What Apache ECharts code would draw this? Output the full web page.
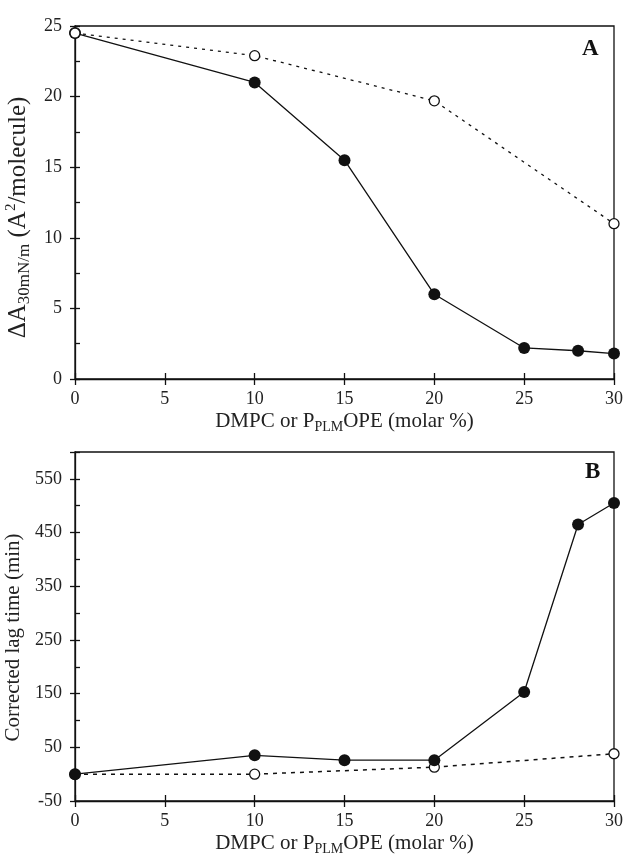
<!DOCTYPE html>
<html>
<head>
<meta charset="utf-8">
<script src="https://cdn.jsdelivr.net/npm/echarts@6/dist/echarts.min.js"></script>
<style>html,body{margin:0;padding:0;background:#fff}#c{width:628px;height:859px}</style>
</head>
<body>
<div id="c"></div>
<script>
// Panel A: ΔA30mN/m vs molar %
var aSolidX = [0, 10, 15, 20, 25, 28, 30];
var aSolidY = [24.5, 21.0, 15.5, 6.0, 2.2, 2.0, 1.8];
var aOpenX = [0, 10, 20, 30];
var aOpenY = [24.5, 22.9, 19.7, 11.0];
// Panel B: corrected lag time
var bSolidX = [0, 10, 15, 20, 25, 28, 30];
var bSolidY = [0, 35, 26, 26, 153, 465, 505];
var bOpenX = [0, 10, 20, 30];
var bOpenY = [0, 0, 13, 38];
var xTicks = [0, 5, 10, 15, 20, 25, 30];
var aYTicks = [0, 5, 10, 15, 20, 25];
var bYTicks = [-50, 50, 150, 250, 350, 450, 550];

function pairs(xs, ys) { return xs.map(function (x, i) { return [x, ys[i]]; }); }

var FF = 'Liberation Serif';
var rich = {
  b: { fontFamily: FF, fontSize: 21, lineHeight: 26, color: '#222' },
  s: { fontFamily: FF, fontSize: 14, lineHeight: 14, verticalAlign: 'bottom', color: '#222' }
};
var richY = {
  b: { fontFamily: FF, fontSize: 25, lineHeight: 30, color: '#222' },
  s: { fontFamily: FF, fontSize: 17, lineHeight: 16, verticalAlign: 'bottom', color: '#222' },
  p: { fontFamily: FF, fontSize: 15, lineHeight: 15, verticalAlign: 'top', color: '#222' }
};
var lineCol = '#111';
var labelStyle = { fontFamily: FF, fontSize: 18, color: '#222' };

function xAxes(grid) {
  return [
    { type: 'value', gridIndex: grid, position: 'bottom', min: 0, max: 30, interval: 5,
      axisLine: { onZero: false, lineStyle: { color: lineCol, width: 1.3 } },
      axisTick: { inside: true, length: 6, lineStyle: { color: lineCol, width: 1.3 } },
      axisLabel: Object.assign({ margin: 11, formatter: function (v) { return xTicks.indexOf(v) >= 0 ? String(v) : ''; } }, labelStyle),
      splitLine: { show: false },
      name: '{b|DMPC or P}{s|PLM}{b|OPE (molar %)}', nameLocation: 'middle', nameGap: 29,
      nameTextStyle: { rich: rich } },
    { type: 'value', gridIndex: grid, position: 'bottom', min: 0, max: 30, interval: 5,
      axisLine: { show: false, onZero: false },
      axisTick: { inside: false, length: 6, lineStyle: { color: lineCol, width: 1.3 } },
      axisLabel: { show: false }, splitLine: { show: false } }
  ];
}

function yInner(grid, mn, mx, step) {
  return { type: 'value', gridIndex: grid, position: 'left', min: mn, max: mx, interval: step,
    axisLine: { show: false, onZero: false },
    axisTick: { inside: true, length: 5, lineStyle: { color: lineCol, width: 1.3 } },
    axisLabel: { show: false }, splitLine: { show: false } };
}

var option = {
  animation: false,
  backgroundColor: '#fff',
  grid: [
    { left: 75, width: 539, top: 26, height: 353, show: true, borderColor: lineCol, borderWidth: 1.3, outerBoundsMode: 'none', containLabel: false },
    { left: 75, width: 539, top: 452, height: 349, show: true, borderColor: lineCol, borderWidth: 1.3, outerBoundsMode: 'none', containLabel: false }
  ],
  xAxis: xAxes(0).concat(xAxes(1)),
  yAxis: [
    { type: 'value', gridIndex: 0, position: 'left', min: 0, max: 25, interval: 5,
      axisLine: { onZero: false, lineStyle: { color: lineCol, width: 1.3 } },
      axisTick: { inside: false, length: 5, lineStyle: { color: lineCol, width: 1.3 } },
      axisLabel: Object.assign({ margin: 13, formatter: function (v) { return aYTicks.indexOf(v) >= 0 ? String(v) : ''; } }, labelStyle),
      splitLine: { show: false },
      name: '{b|ΔA}{s|30mN/m}{b| (A}{p|2}{b|/molecule)}', nameLocation: 'middle', nameGap: 39,
      nameTextStyle: { rich: richY, padding: [0, 30, 0, 0] } },
    yInner(0, 0, 25, 2.5),
    { type: 'value', gridIndex: 1, position: 'left', min: -50, max: 600, interval: 100,
      axisLine: { onZero: false, lineStyle: { color: lineCol, width: 1.3 } },
      axisTick: { inside: false, length: 5, lineStyle: { color: lineCol, width: 1.3 } },
      axisLabel: Object.assign({ margin: 13, formatter: function (v) { return bYTicks.indexOf(v) >= 0 ? String(v) : ''; } }, labelStyle),
      splitLine: { show: false },
      name: '{b|Corrected lag time (min)}', nameLocation: 'middle', nameGap: 37,
      nameTextStyle: { rich: rich, padding: [0, 22, 0, 0] } },
    yInner(1, -50, 600, 50)
  ],
  graphic: [
    { type: 'text', left: 582, top: 38, style: { text: 'A', font: 'bold 23px "Liberation Serif"', fill: '#111' } },
    { type: 'text', left: 585, top: 461, style: { text: 'B', font: 'bold 23px "Liberation Serif"', fill: '#111' } }
  ],
  series: [
    { type: 'line', xAxisIndex: 0, yAxisIndex: 0, data: pairs(aSolidX, aSolidY), z: 2,
      symbol: 'circle', symbolSize: 12, itemStyle: { color: '#111' },
      lineStyle: { color: lineCol, width: 1.3 } },
    { type: 'line', xAxisIndex: 0, yAxisIndex: 0, data: pairs(aOpenX, aOpenY), z: 3,
      symbol: 'circle', symbolSize: 10, itemStyle: { color: '#fff', borderColor: '#111', borderWidth: 1.3 },
      lineStyle: { color: lineCol, width: 1.3, type: [3, 5] } },
    { type: 'line', xAxisIndex: 2, yAxisIndex: 2, data: pairs(bOpenX, bOpenY), z: 2,
      symbol: 'circle', symbolSize: 10, itemStyle: { color: '#fff', borderColor: '#111', borderWidth: 1.3 },
      lineStyle: { color: lineCol, width: 1.5, type: [4, 5] } },
    { type: 'line', xAxisIndex: 2, yAxisIndex: 2, data: pairs(bSolidX, bSolidY), z: 3,
      symbol: 'circle', symbolSize: 12, itemStyle: { color: '#111' },
      lineStyle: { color: lineCol, width: 1.3 } }
  ]
};
var chart = echarts.init(document.getElementById('c'), null, { renderer: 'canvas' });
chart.setOption(option);
</script>
</body>
</html>
